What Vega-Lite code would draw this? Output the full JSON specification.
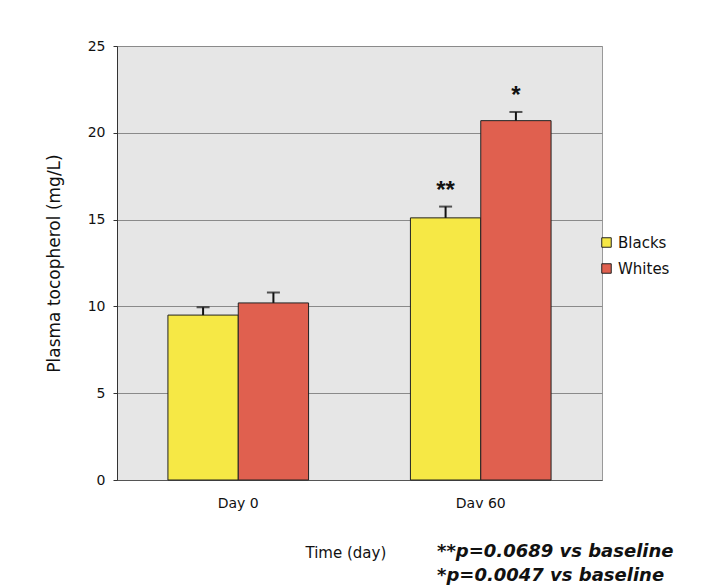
{
  "$schema": "https://vega.github.io/schema/vega-lite/v6.json",
  "autosize": "none",
  "width": 485,
  "height": 434,
  "padding": {"left": 117, "top": 46, "right": 113, "bottom": 108},
  "background": "white",
  "data": {
    "values": [
      {"day": "Day 0", "group": "Blacks", "value": 9.5, "hi": 9.95, "sig": ""},
      {"day": "Day 0", "group": "Whites", "value": 10.2, "hi": 10.8, "sig": ""},
      {"day": "Dav 60", "group": "Blacks", "value": 15.1, "hi": 15.75, "sig": "**"},
      {"day": "Dav 60", "group": "Whites", "value": 20.7, "hi": 21.2, "sig": "*"}
    ]
  },
  "title": {
    "text": ["**p=0.0689 vs baseline", "*p=0.0047 vs baseline"],
    "orient": "bottom",
    "anchor": "start",
    "frame": "group",
    "dx": 320,
    "offset": -17,
    "font": "DejaVu Sans",
    "fontSize": 18,
    "fontStyle": "italic",
    "fontWeight": "bold",
    "color": "#111",
    "lineHeight": 24
  },
  "config": {
    "font": "Liberation Sans",
    "view": {"fill": "#e6e6e6", "stroke": "#999", "strokeWidth": 1}
  },
  "encoding": {
    "x": {
      "field": "day",
      "type": "nominal",
      "sort": ["Day 0", "Dav 60"],
      "scale": {"paddingInner": 0.42, "paddingOuter": 0.21},
      "axis": {
        "title": "Time (day)",
        "titleX": 188,
        "titleY": 65,
        "titleAlign": "left",
        "titleFont": "DejaVu Sans",
        "titleFontSize": 15,
        "titleFontWeight": "normal",
        "titleColor": "#111",
        "labelAngle": 0,
        "labelFont": "DejaVu Sans",
        "labelFontSize": 14,
        "labelColor": "#111",
        "labelPadding": 16,
        "ticks": false,
        "domain": true,
        "domainColor": "#555"
      }
    },
    "xOffset": {"field": "group", "type": "nominal", "scale": {"padding": 0}},
    "y": {
      "field": "value",
      "type": "quantitative",
      "scale": {"domain": [0, 25], "nice": false},
      "axis": {
        "title": "Plasma tocopherol (mg/L)",
        "titleFont": "DejaVu Sans",
        "titleFontSize": 17,
        "titleFontWeight": "normal",
        "titleColor": "#111",
        "titlePadding": 24,
        "values": [0, 5, 10, 15, 20, 25],
        "labelFont": "DejaVu Sans",
        "labelFontSize": 14,
        "labelColor": "#111",
        "labelPadding": 8,
        "tickSize": 4,
        "tickColor": "#333",
        "domainColor": "#333",
        "gridColor": "#8a8a8a",
        "gridWidth": 1
      }
    }
  },
  "layer": [
    {
      "mark": {"type": "bar", "stroke": "#222", "strokeWidth": 1},
      "encoding": {
        "color": {
          "field": "group",
          "type": "nominal",
          "scale": {"domain": ["Blacks", "Whites"], "range": ["#f6e845", "#e0604f"]},
          "legend": {
            "title": null,
            "orient": "none",
            "legendX": 482,
            "legendY": 189,
            "symbolType": "square",
            "symbolSize": 90,
            "symbolStrokeColor": "#222",
            "symbolStrokeWidth": 1,
            "labelFont": "DejaVu Sans",
            "labelFontSize": 15,
            "labelColor": "#111",
            "rowPadding": 10
          }
        }
      }
    },
    {
      "mark": {"type": "rule", "color": "#111", "strokeWidth": 2},
      "encoding": {"y2": {"field": "hi"}}
    },
    {
      "mark": {"type": "tick", "color": "#111", "thickness": 2, "size": 13},
      "encoding": {"y": {"field": "hi", "type": "quantitative"}}
    },
    {
      "transform": [{"filter": "datum.sig != ''"}],
      "mark": {"type": "text", "fontSize": 24, "fontWeight": "bold", "color": "#111", "baseline": "alphabetic", "dy": -9},
      "encoding": {
        "y": {"field": "hi", "type": "quantitative"},
        "text": {"field": "sig"}
      }
    }
  ]
}
